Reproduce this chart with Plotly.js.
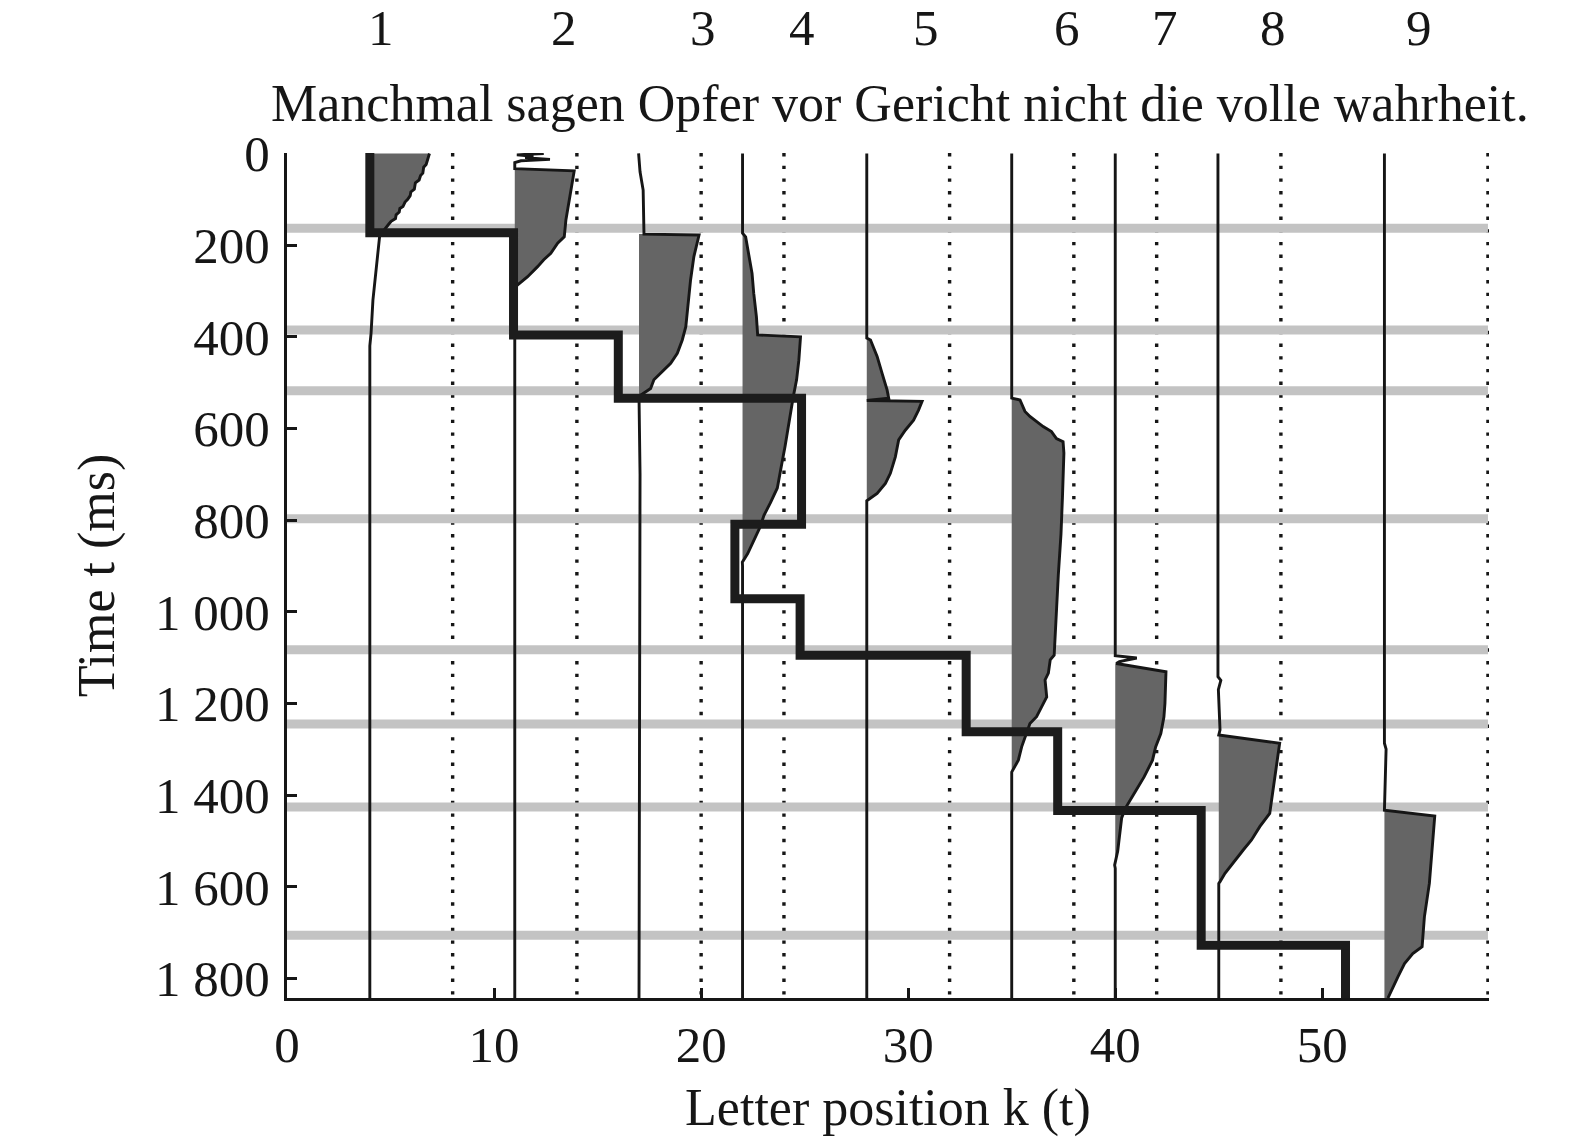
<!DOCTYPE html>
<html><head><meta charset="utf-8">
<script src="https://cdn.plot.ly/plotly-3.0.1.min.js"></script>
<style>html,body{margin:0;padding:0;background:#fff}</style>
</head><body><div id="chart" style="width:1575px;height:1142px"></div>
<script>
// ---- data ----
const sentence = 'Manchmal sagen Opfer vor Gericht nicht die volle wahrheit.';
const wordNumbers = ['1','2','3','4','5','6','7','8','9'];
const wordNumberX = [4.55, 13.4, 20.08, 24.88, 30.87, 37.66, 42.4, 47.6, 54.66];
const wordCenters = [4, 11, 17, 22, 28, 35, 40, 45, 53];
const spacePositions = [8, 14, 20, 24, 32, 38, 42, 48, 58];
const boundaryTimes = [163, 385, 518, 797, 1083, 1245, 1426, 1706];
const xTickVals = [0, 10, 20, 30, 40, 50];
const xTickText = ['0', '10', '20', '30', '40', '50'];
const yTickVals = [0, 200, 400, 600, 800, 1000, 1200, 1400, 1600, 1800];
const yTickText = ['0', '200', '400', '600', '800', '1 000', '1 200', '1 400', '1 600', '1 800'];

// fixation path (letter position over time)
const fixationX = [4, 4, 10.94, 10.94, 16, 16, 24.85, 24.85, 21.63, 21.63, 24.78, 24.78, 32.8, 32.8, 37.22, 37.22, 44.15, 44.15, 51.12, 51.12];
const fixationT = [-1, 173, 173, 396, 396, 534, 534, 809, 809, 972, 972, 1095, 1095, 1262, 1262, 1434, 1434, 1728, 1728, 1843];

// word profiles: curve x(t)
const word1X = [6.88, 6.8, 6.74, 6.72, 6.6, 6.56, 6.45, 6.38, 6.2, 6.15, 5.98, 5.95, 5.83, 5.7, 5.6, 5.45, 5.42, 5.27, 5.24, 5.03, 4.92, 4.79, 4.6, 4.47, 4.35, 4.23, 4.15, 4.06, 4.0, 4.0];
const word1T = [0, 12, 16, 24, 30, 43, 48, 58, 64, 78, 84, 92, 100, 106, 116, 120, 128, 134, 142, 148, 154, 161, 172, 182, 230, 276, 320, 392, 420, 1843];
const word2X = [12.4, 11.1, 11.9, 11.5, 12.7, 11.3, 11.0, 11.0, 13.87, 13.79, 13.7, 13.63, 13.47, 13.39, 13.07, 12.74, 12.4, 12.1, 11.62, 11.14, 11.0, 11.0];
const word2T = [0, 3, 6, 9, 13, 16, 20, 33, 38, 58, 80, 102, 145, 182, 196, 218, 232, 247, 269, 287, 292, 1843];
const word3X = [16.98, 17.05, 17.2, 17.24, 17.24, 19.9, 19.65, 19.49, 19.36, 19.26, 19.09, 18.85, 18.53, 18.05, 17.72, 17.56, 17.24, 17.0, 17.05, 17.0];
const word3T = [0, 40, 80, 167, 176, 178, 225, 276, 334, 378, 407, 436, 458, 480, 494, 513, 523, 530, 700, 1843];
const word4X = [22, 22, 22.15, 22.3, 22.46, 22.54, 22.67, 22.73, 24.8, 24.72, 24.61, 24.45, 24.32, 24.2, 24.05, 23.9, 23.68, 23.35, 23.03, 22.85, 22.6, 22.25, 21.99, 22, 22];
const word4T = [0, 174, 182, 218, 262, 305, 356, 396, 400, 451, 494, 531, 567, 604, 640, 676, 730, 762, 790, 815, 840, 873, 892, 900, 1843];
const word5X = [28, 28, 28.18, 28.5, 28.74, 28.98, 29.06, 28.0, 30.67, 30.5, 30.26, 29.86, 29.54, 29.38, 29.14, 28.9, 28.5, 28.18, 28.0, 28.0];
const word5T = [0, 403, 407, 443, 480, 516, 534, 539, 541, 560, 582, 604, 625, 662, 698, 720, 742, 753, 758, 1843];
const word6X = [35, 35, 35.4, 35.64, 35.88, 36.2, 36.52, 36.92, 37.16, 37.48, 37.52, 37.45, 37.38, 37.25, 37.15, 37.05, 36.86, 36.77, 36.61, 36.69, 36.45, 36.2, 35.88, 35.72, 35.48, 35.32, 35.08, 35, 35];
const word6T = [0, 534, 538, 563, 574, 585, 596, 607, 622, 629, 654, 750, 830, 920, 1010, 1095, 1105, 1134, 1149, 1186, 1207, 1229, 1244, 1266, 1295, 1324, 1346, 1350, 1843];
const word7X = [40, 40, 41.04, 40.2, 40.05, 42.45, 42.4, 42.35, 42.2, 41.95, 41.8, 41.4, 41.0, 40.7, 40.5, 40.31, 40.23, 40.12, 39.97, 40, 40];
const word7T = [0, 1096, 1101, 1109, 1113, 1131, 1200, 1230, 1266, 1295, 1324, 1360, 1390, 1411, 1428, 1450, 1484, 1522, 1553, 1560, 1843];
const word8X = [44.96, 44.96, 45.1, 45.06, 44.98, 45.06, 45.0, 47.94, 47.78, 47.62, 47.46, 46.98, 46.58, 46.18, 45.7, 45.3, 45.06, 45.0, 45.0];
const word8T = [0, 1142, 1150, 1156, 1170, 1258, 1269, 1287, 1338, 1396, 1440, 1469, 1498, 1520, 1549, 1571, 1589, 1593, 1843];
const word9X = [53, 53, 53.08, 53.06, 53.02, 53.0, 55.43, 55.33, 55.17, 54.93, 54.82, 54.37, 53.97, 53.65, 53.33, 53.17];
const word9T = [0, 1287, 1300, 1337, 1420, 1433, 1446, 1498, 1593, 1666, 1731, 1746, 1768, 1797, 1826, 1843];
// time range (ms) in which each word's profile is shaded
const fillStart = [0, 33, 176, 174, 403, 534, 1113, 1269, 1433];
const fillEnd = [172, 292, 530, 892, 758, 1350, 1553, 1593, 1843];

// ---- build ----
const profilesX = [word1X, word2X, word3X, word4X, word5X, word6X, word7X, word8X, word9X];
const profilesT = [word1T, word2T, word3T, word4T, word5T, word6T, word7T, word8T, word9T];
const INK = '#161616';
const T_BOTTOM = 1843, T_TOP = -1;
const traces = [];

// dotted word-boundary lines
const dx = [], dy = [];
spacePositions.forEach(p => { dx.push(p, p, null); dy.push(T_TOP, T_BOTTOM, null); });
traces.push({x: dx, y: dy, mode: 'lines', line: {color: INK, width: 3.4, dash: '3.4px,9.3px'}, hoverinfo: 'skip', cliponaxis: false});

// grey boundary bands
const bx = [], by = [];
boundaryTimes.forEach(t => { bx.push(0, 58, null); by.push(t, t, null); });
traces.push({x: bx, y: by, mode: 'lines', line: {color: '#c3c3c3', width: 9}, hoverinfo: 'skip'});

// shaded profiles
profilesX.forEach((xs, i) => {
  const ts = profilesT[i];
  const px = [], py = [];
  for (let k = 0; k < xs.length; k++) {
    if (ts[k] >= fillStart[i] && ts[k] <= fillEnd[i]) { px.push(xs[k]); py.push(ts[k]); }
  }
  px.push(wordCenters[i], wordCenters[i]); py.push(fillEnd[i], fillStart[i]);
  traces.push({x: px, y: py, mode: 'lines', fill: 'toself', fillcolor: '#656565', line: {width: 0}, hoverinfo: 'skip'});
});
// profile curves
profilesX.forEach((xs, i) => {
  traces.push({x: xs, y: profilesT[i], mode: 'lines', line: {color: INK, width: 2.9}, hoverinfo: 'skip'});
});
// fixation path
traces.push({x: fixationX, y: fixationT, mode: 'lines', line: {color: '#1c1c1c', width: 9}, hoverinfo: 'skip'});

const annotations = wordNumbers.map((n, i) => ({
  text: n, x: wordNumberX[i], xref: 'x', y: 1.148, yref: 'paper', yanchor: 'middle',
  showarrow: false, font: {size: 51, color: INK}
}));
annotations.push({text: sentence, x: 0.5096, xref: 'paper', y: 1.059, yref: 'paper', yanchor: 'middle',
  showarrow: false, font: {size: 52, color: INK}});

const FONT = 'Liberation Serif, Times New Roman, serif';
const layout = {
  width: 1575, height: 1142,
  margin: {l: 287, r: 86, t: 153, b: 144},
  paper_bgcolor: '#ffffff', plot_bgcolor: '#ffffff',
  showlegend: false,
  font: {family: FONT, size: 51, color: INK},
  xaxis: {
    range: [0, 58.05], tickvals: xTickVals, ticktext: xTickText,
    ticks: 'inside', ticklen: 10, tickwidth: 3, tickcolor: INK,
    showline: true, linewidth: 3, linecolor: INK, showgrid: false, zeroline: false,
    ticklabelstandoff: 0, tickfont: {size: 51},
    title: {text: 'Letter position k (t)', standoff: 17, font: {size: 52}}
  },
  yaxis: {
    range: [T_BOTTOM, T_TOP], tickvals: yTickVals, ticktext: yTickText,
    ticks: 'inside', ticklen: 10, tickwidth: 3, tickcolor: INK,
    showline: true, linewidth: 3, linecolor: INK, showgrid: false, zeroline: false,
    ticklabelstandoff: 4, tickfont: {size: 51},
    title: {text: 'Time t (ms)', standoff: 24, font: {size: 52}}
  },
  annotations: annotations
};
Plotly.newPlot('chart', traces, layout, {displayModeBar: false, staticPlot: true});
</script></body></html>
